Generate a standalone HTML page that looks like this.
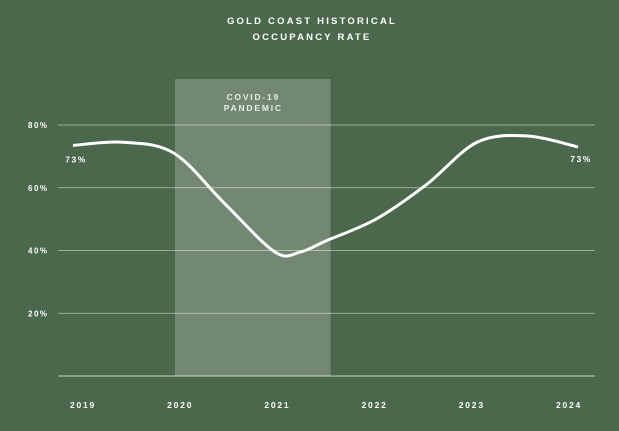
<!DOCTYPE html>
<html><head><meta charset="utf-8"><style>
html,body{margin:0;padding:0;background:#4b674c;}
svg{display:block;font-family:"Liberation Sans",sans-serif;}
</style></head><body>
<svg width="619" height="431" viewBox="0 0 619 431" xmlns="http://www.w3.org/2000/svg">
<rect width="619" height="431" fill="#4b674c"/>
<text x="312" y="24" text-anchor="middle" fill="#fff" font-size="9.5" font-weight="bold" letter-spacing="2.2">GOLD COAST HISTORICAL</text>
<text x="312" y="40" text-anchor="middle" fill="#fff" font-size="9.5" font-weight="bold" letter-spacing="2.2">OCCUPANCY RATE</text>
<g id="grid"></g>
<g id="band"></g>
<g id="marks"></g>
<g id="labels"></g>
</svg>
<script>
const years = [2019, 2019.5, 2020, 2020.5, 2021, 2021.25, 2021.5, 2022, 2022.5, 2023, 2023.5, 2024];
const rates = [73.5, 74.5, 71, 55, 39.5, 39.5, 43, 50, 61, 74.5, 76.5, 73];
const yTicks = [20, 40, 60, 80];
const xTickLabels = ["2019", "2020", "2021", "2022", "2023", "2024"];
const covidStart = 2020.0;
const covidEnd = 2021.55;
const NS = "http://www.w3.org/2000/svg";
function xs(v){ return 73 + (v - 2019) * 101; }
function ys(v){ return 376 - v * 3.1375; }
function mk(tag, attrs, parent){ const e=document.createElementNS(NS,tag); for(const k in attrs) e.setAttribute(k,attrs[k]); parent.appendChild(e); return e; }
const grid=document.getElementById('grid'), band=document.getElementById('band'), marks=document.getElementById('marks'), labels=document.getElementById('labels');
const base = mk('line',{x1:58,x2:595,y1:ys(0),y2:ys(0),stroke:'#c8d0c2','stroke-width':1},grid);


yTicks.forEach(t=>{
  const l=mk('line',{x1:58,x2:595,y1:ys(t),y2:ys(t),stroke:'#b9c4b3','stroke-width':0.8},grid);
  
  
  const tx=mk('text',{x:28,y:ys(t)+3,fill:'#fff','font-size':8,'font-weight':'bold','letter-spacing':1.5},labels);
  tx.textContent=t+'%';
  
  
});
xTickLabels.forEach((s,i)=>{
  const tx=mk('text',{x:83+i*97.2,y:408,fill:'#fff','font-size':8.5,'font-weight':'bold','letter-spacing':1.8,'text-anchor':'middle'},labels);
  tx.textContent=s;
  
  
});
const r=mk('rect',{x:xs(covidStart)+1,y:79,width:xs(covidEnd)-xs(covidStart)-1,height:ys(0)-79,fill:'rgba(255,255,255,0.22)'},band);


const cx=(xs(covidStart)+xs(covidEnd))/2+1;
[['COVID-19',100],['PANDEMIC',111]].forEach(([s,y])=>{
  const tx=mk('text',{x:cx,y:y,fill:'#e8ece4','font-size':8.5,'font-weight':'bold','letter-spacing':1.8,'text-anchor':'middle'},band);
  tx.textContent=s;
  
  
});
const P=years.map((y,i)=>[xs(y),ys(rates[i])]);
let d='M'+P[0][0]+','+P[0][1];
for(let i=0;i<P.length-1;i++){
  const p0=P[i-1]||P[i],p1=P[i],p2=P[i+1],p3=P[i+2]||P[i+1];
  const c1=[p1[0]+(p2[0]-p0[0])/6,p1[1]+(p2[1]-p0[1])/6];
  const c2=[p2[0]-(p3[0]-p1[0])/6,p2[1]-(p3[1]-p1[1])/6];
  d+=' C'+c1+' '+c2+' '+p2;
}
const line=mk('path',{d:d,fill:'none',stroke:'#fff','stroke-width':3,'stroke-linejoin':'round'},marks);


const first=mk('text',{x:xs(years[0])+3,y:ys(rates[0])+17,fill:'#fff','font-size':8.5,'font-weight':'bold','letter-spacing':1.5,'text-anchor':'middle'},labels);
first.textContent=Math.round(rates[0]-0.5)+'%';


const last=mk('text',{x:xs(years[years.length-1])+3,y:ys(rates[rates.length-1])+15,fill:'#fff','font-size':8.5,'font-weight':'bold','letter-spacing':1.5,'text-anchor':'middle'},labels);
last.textContent=Math.round(rates[rates.length-1])+'%';


</script>
</body></html>
